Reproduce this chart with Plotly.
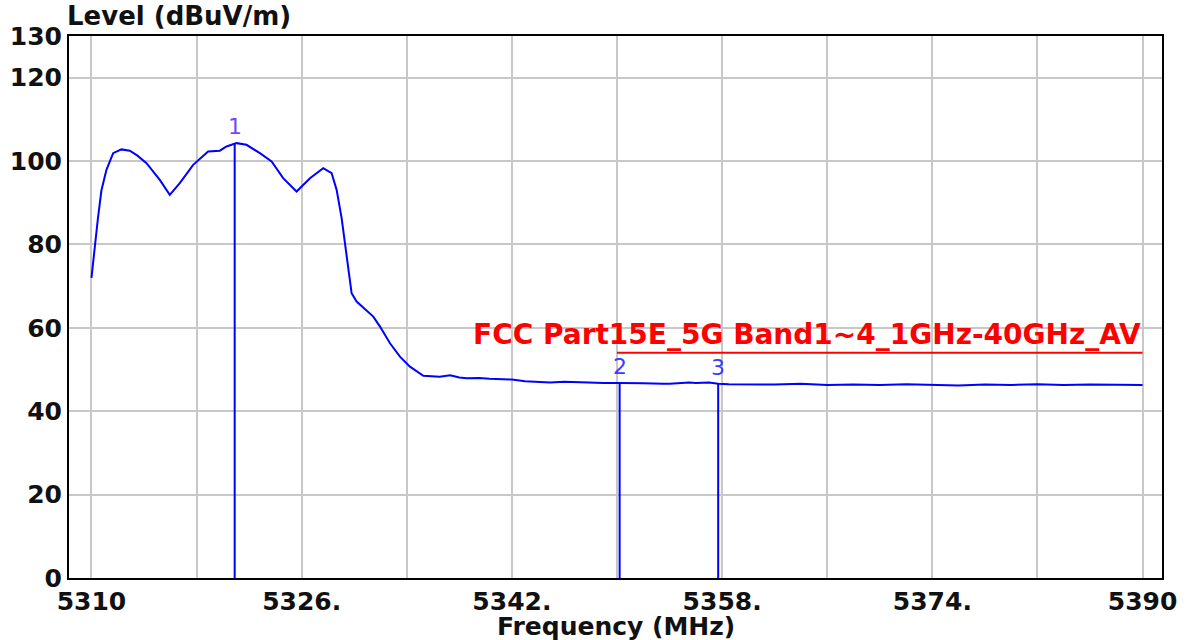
import plotly.graph_objects as go

# Spectrum trace (MHz, dBuV/m)
freq = [5310.0, 5310.25, 5310.5, 5310.76, 5311.14, 5311.65, 5312.28, 5312.92, 5313.5,
        5314.19, 5315.2, 5315.96, 5316.72, 5317.74, 5318.88, 5319.77, 5320.28, 5321.04,
        5321.8, 5322.82, 5323.71, 5324.59, 5325.61, 5326.63, 5327.64, 5328.28, 5328.66,
        5329.04, 5329.42, 5329.8, 5330.18, 5330.8, 5331.45, 5331.96, 5332.72, 5333.48,
        5334.24, 5335.26, 5336.5, 5337.3, 5338.0, 5338.56, 5339.5, 5340.3, 5341.1,
        5342.0, 5343.0, 5343.6, 5344.9, 5346.0, 5347.5, 5348.0, 5349.0, 5350.2, 5351.0,
        5352.0, 5353.5, 5354.0, 5355.5, 5356.0, 5357.0, 5357.7, 5358.5, 5360.0, 5362.0,
        5364.0, 5366.0, 5368.0, 5370.0, 5372.0, 5374.0, 5376.0, 5378.0, 5380.0, 5382.0,
        5384.0, 5386.0, 5388.0, 5390.0]
level = [72.0, 79.9, 86.5, 93.0, 97.9, 101.9, 102.8, 102.5, 101.3,
         99.5, 95.5, 91.9, 94.7, 99.1, 102.3, 102.5, 103.5, 104.3,
         103.9, 101.9, 99.9, 95.9, 92.7, 95.9, 98.3, 97.1, 93.1,
         86.3, 77.1, 68.3, 66.3, 64.6, 62.7, 60.3, 56.3, 53.1,
         50.7, 48.5, 48.3, 48.6, 48.1, 47.9, 48.0, 47.8, 47.7,
         47.6, 47.2, 47.1, 46.9, 47.1, 46.9, 47.0, 46.8, 46.8, 46.7,
         46.7, 46.6, 46.6, 46.9, 46.8, 46.9, 46.6, 46.5, 46.5, 46.4,
         46.6, 46.3, 46.4, 46.3, 46.5, 46.3, 46.2, 46.4, 46.3, 46.5,
         46.3, 46.4, 46.3, 46.3]

# Markers
marker_ids = ["1", "2", "3"]
marker_freq = [5320.9, 5350.2, 5357.7]
marker_level = [104.3, 46.8, 46.6]
marker_colors = ["#7048ff", "#3a3cff", "#3a3cff"]

# Limit line
limit_name = "FCC Part15E_5G Band1~4_1GHz-40GHz_AV"
limit_freq = [5350.0, 5390.0]
limit_level = [54.0, 54.0]

# Axes ticks
x_ticks = [5310, 5318, 5326, 5334, 5342, 5350, 5358, 5366, 5374, 5382, 5390]
x_ticktext = ["5310", "", "5326.", "", "5342.", "", "5358.", "", "5374.", "", "5390"]
y_ticks = [0, 20, 40, 60, 80, 100, 120, 130]

FONT = "DejaVu Sans"
BLUE = "#0000ff"

fig = go.Figure()

fig.add_trace(go.Scatter(x=freq, y=level, mode="lines",
                         line=dict(color=BLUE, width=2), hoverinfo="skip"))

mx, my = [], []
for f, v in zip(marker_freq, marker_level):
    mx += [f, f, None]
    my += [0, v, None]
fig.add_trace(go.Scatter(x=mx, y=my, mode="lines",
                         line=dict(color=BLUE, width=2), hoverinfo="skip"))

fig.add_trace(go.Scatter(x=limit_freq, y=limit_level, mode="lines",
                         line=dict(color="#ff0000", width=2), hoverinfo="skip"))

for mid, f, v, c in zip(marker_ids, marker_freq, marker_level, marker_colors):
    fig.add_annotation(x=f, y=v, text=mid, showarrow=False, xanchor="center",
                       yanchor="bottom", yshift=2,
                       font=dict(family=FONT, size=22, color=c))

fig.add_annotation(x=limit_freq[1], y=limit_level[1], text="<b>" + limit_name + "</b>",
                   showarrow=False, xanchor="right", yanchor="bottom", yshift=0,
                   font=dict(family=FONT, size=28, color="#ff0000"))

fig.add_annotation(xref="paper", yref="paper", x=0, y=1.037, text="<b>Level (dBuV/m)</b>",
                   showarrow=False, xanchor="left", yanchor="middle", xshift=-4,
                   font=dict(family=FONT, size=26, color="#111111"))
fig.add_annotation(xref="paper", yref="paper", x=0.5, y=-0.09, text="<b>Frequency (MHz)</b>",
                   showarrow=False, xanchor="center", yanchor="middle",
                   font=dict(family=FONT, size=25, color="#111111"))

fig.update_layout(
    width=1192, height=640,
    margin=dict(l=69, r=30, t=36, b=62, autoexpand=False),
    paper_bgcolor="white", plot_bgcolor="white",
    showlegend=False,
    font=dict(family=FONT, color="#111111"),
)
fig.update_xaxes(range=[5308.29, 5391.48], tickmode="array", tickvals=x_ticks,
                 ticktext=x_ticktext, showgrid=True, gridcolor="#c8c8c8", gridwidth=2,
                 showline=True, mirror=True, linecolor="black", linewidth=2,
                 zeroline=False, ticks="", ticklen=0, ticklabelstandoff=0, automargin=False,
                 tickfont=dict(family=FONT, size=25, color="#111111", weight="bold"))
fig.update_yaxes(range=[0, 130], tickmode="array", tickvals=y_ticks,
                 showgrid=True, gridcolor="#c8c8c8", gridwidth=2,
                 showline=True, mirror=True, linecolor="black", linewidth=2,
                 zeroline=False, ticks="", ticklen=0, ticklabelstandoff=0, automargin=False,
                 tickfont=dict(family=FONT, size=25, color="#111111", weight="bold"))

fig.write_html("out.html", config={"displayModeBar": False},
               post_script="document.body.style.margin='0';document.body.style.overflow='hidden';")
